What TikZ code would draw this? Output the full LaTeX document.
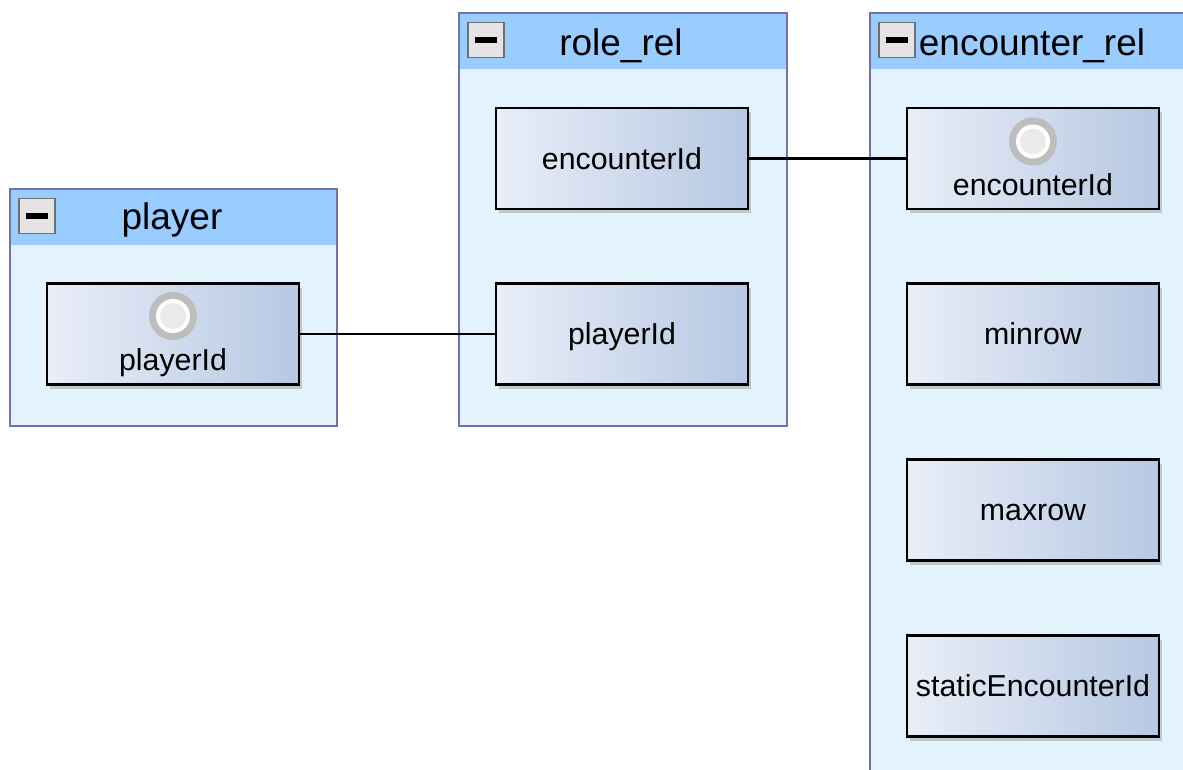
\documentclass[tikz,border=0pt]{standalone}
\usepackage{fontspec}
\setmainfont{Liberation Sans}
\usetikzlibrary{shadows,calc}

\definecolor{headblue}{HTML}{99CCFF}
\definecolor{bodyblue}{HTML}{E3F3FD}
\definecolor{frameline}{HTML}{7272A6}
\definecolor{itemleft}{HTML}{E9EEF8}
\definecolor{itemright}{HTML}{B6C8E2}
\definecolor{keygray}{HTML}{BDBDBD}
\definecolor{keycore}{HTML}{EAEAEA}
\definecolor{btnfill}{HTML}{E4E4E4}
\definecolor{btnline}{HTML}{6E6E6E}

\tikzset{
  table/.style={rectangle, anchor=north west, inner sep=0pt, fill=bodyblue,
    draw=frameline, line width=1.8pt,
    path picture={\fill[headblue] (path picture bounding box.north west)
      rectangle ([yshift=-56pt]path picture bounding box.north east);}},
  title/.style={anchor=base, font=\fontsize{37}{42}\selectfont},
  field/.style={rectangle, inner sep=0pt, minimum width=252pt, minimum height=101pt,
    left color=itemleft, right color=itemright, draw=black, line width=2.2pt,
    drop shadow={shadow xshift=3pt, shadow yshift=-4pt, opacity=0.3, fill=black!60}},
  fieldtext/.style={anchor=base, font=\fontsize{30.3}{35}\selectfont},
  link/.style={draw=black, line width=2.2pt},
  button/.style={rectangle, inner sep=0pt, minimum width=36pt, minimum height=35pt,
    fill=btnfill, draw=btnline, line width=1.4pt,
    path picture={\fill[black] ([xshift=-11pt,yshift=-3pt]path picture bounding box.center)
      rectangle ([xshift=11pt,yshift=3pt]path picture bounding box.center);}},
}

% key marker: grey ring, white gap, light core
\newcommand{\keymark}[1]{%
  \fill[keygray] (#1) circle (24pt);
  \fill[white] (#1) circle (17pt);
  \fill[keycore] (#1) circle (13pt);
}

\begin{document}
\begin{tikzpicture}[x=1pt, y=-1pt]
  \useasboundingbox (0,0) rectangle (1183,769);
  \clip (0,0) rectangle (1183,769);
  \fill[white] (0,0) rectangle (1183,769);

  % tables
  \node[table, minimum width=327pt, minimum height=237pt] (player) at (9,188) {};
  \node[table, minimum width=328pt, minimum height=413pt] (role) at (458,12) {};
  \node[table, minimum width=340pt, minimum height=790pt] (enc) at (869,12) {};

  % collapse buttons
  \node[button] (bplayer) at (37,216) {};
  \node[button] (brole) at (486,40) {};
  \node[button] (benc) at (897,40) {};

  % titles
  \node[title] (tplayer) at (172,229) {player};
  \node[title] (trole) at (621,55) {role\_rel};
  \node[title] (tenc) at (1032,55) {encounter\_rel};

  % fields
  \node[field] (pid) at (173,334) {};
  \node[field] (renc) at (622,158.5) {};
  \node[field] (rpid) at (622,334) {};
  \node[field] (eenc) at (1033,158.5) {};
  \node[field] (emin) at (1033,334) {};
  \node[field] (emax) at (1033,510) {};
  \node[field] (estat) at (1033,686) {};

  % key markers
  \keymark{$(pid.center)+(0,-18)$}
  \keymark{$(eenc.center)+(0,-17)$}

  % field names
  \node[fieldtext] at ($(pid.center)+(0,36.5)$) {playerId};
  \node[fieldtext] at ($(eenc.center)+(0,36.5)$) {encounterId};
  \node[fieldtext] at ($(renc.center)+(0,10.5)$) {encounterId};
  \node[fieldtext] at ($(rpid.center)+(0,10.5)$) {playerId};
  \node[fieldtext] at ($(emin.center)+(0,10.5)$) {minrow};
  \node[fieldtext] at ($(emax.center)+(0,10.5)$) {maxrow};
  \node[fieldtext] at ($(estat.center)+(0,10.5)$) {staticEncounterId};

  % relations
  \draw[link] (pid.east) -- (rpid.west);
  \draw[link] (renc.east) -- (eenc.west);
\end{tikzpicture}
\end{document}
